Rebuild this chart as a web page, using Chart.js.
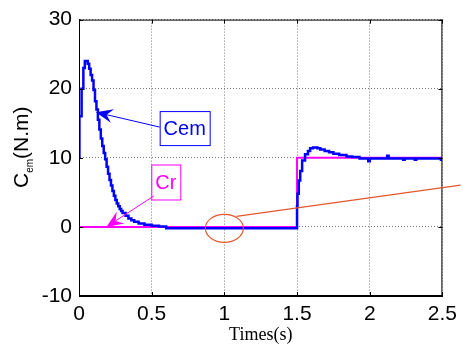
<!DOCTYPE html>
<html>
<head>
<meta charset="utf-8">
<script src="https://cdn.jsdelivr.net/npm/chart.js@4"></script>
<style>
  html, body { margin: 0; padding: 0; background: #fff; }
  #wrap { width: 463px; height: 350px; position: relative; }
</style>
</head>
<body>
<div id="wrap"><canvas id="torqueChart" width="463" height="350"></canvas></div>
<script>
// electromagnetic torque (Cem) and load torque (Cr) vs time
const cemTime = [0, 0.003, 0.018, 0.03, 0.04, 0.06, 0.07, 0.08, 0.09, 0.1, 0.11, 0.12, 0.13, 0.14,
    0.15, 0.16, 0.17, 0.18, 0.19, 0.2, 0.21, 0.22, 0.23, 0.24, 0.25, 0.26, 0.27, 0.28, 0.29, 0.3,
    0.32, 0.34, 0.36, 0.38, 0.41, 0.45, 0.5, 0.55, 0.6, 1.5,
    1.5, 1.503, 1.512, 1.522, 1.535, 1.555, 1.575, 1.59, 1.61, 1.64, 1.66, 1.69, 1.72, 1.75,
    1.79, 1.84, 1.88, 1.93, 1.99, 2.0, 2.12, 2.13, 2.23, 2.24, 2.31, 2.32, 2.49, 2.5];
const cemTorque = [10, 16, 20, 23, 24, 23.6, 22.9, 22, 21.2, 19.8, 18.2, 17, 15.5, 14.1,
    12.8, 11.7, 10.7, 9.8, 8.7, 7.7, 6.8, 6.0, 5.2, 4.5, 3.9, 3.4, 3.0, 2.6, 2.3, 2.0,
    1.6, 1.2, 0.95, 0.75, 0.5, 0.3, 0.15, 0.05, -0.2, -0.2,
    3, 4.8, 6.7, 8.1, 9.6, 10.5, 11.0, 11.4, 11.5, 11.4, 11.2, 11.0, 10.8, 10.6,
    10.4, 10.2, 10.1, 9.9, 9.5, 9.9, 10.3, 9.9, 9.7, 9.9, 9.7, 9.9, 9.7, 9.7];
const crTime = [0, 1.5, 1.5, 2.5];
const crTorque = [0, 0, 10, 10];
const xTicks = [0, 0.5, 1, 1.5, 2, 2.5];
const yTicks = [-10, 0, 10, 20, 30];

const cemPoints = cemTime.map((t, i) => ({ x: t, y: cemTorque[i] }));
const crPoints = crTime.map((t, i) => ({ x: t, y: crTorque[i] }));

function arrow(ctx, x1, y1, x2, y2, color) {
    const ang = Math.atan2(y2 - y1, x2 - x1);
    const len = 17, half = 7, notch = 11;
    ctx.strokeStyle = color;
    ctx.fillStyle = color;
    ctx.lineWidth = 1;
    ctx.beginPath();
    ctx.moveTo(x1, y1);
    ctx.lineTo(x2 - Math.cos(ang) * notch, y2 - Math.sin(ang) * notch);
    ctx.stroke();
    const bx = x2 - Math.cos(ang) * len, by = y2 - Math.sin(ang) * len;
    const nx = -Math.sin(ang), ny = Math.cos(ang);
    ctx.beginPath();
    ctx.moveTo(x2, y2);
    ctx.lineTo(bx + nx * half, by + ny * half);
    ctx.lineTo(x2 - Math.cos(ang) * notch, y2 - Math.sin(ang) * notch);
    ctx.lineTo(bx - nx * half, by - ny * half);
    ctx.closePath();
    ctx.fill();
}

const decorations = {
    id: 'decorations',
    afterDraw(chart) {
        const ctx = chart.ctx;
        const a = chart.chartArea;
        const xs = chart.scales.x, ys = chart.scales.y;
        ctx.save();

        // box edges and inward ticks
        ctx.strokeStyle = '#000';
        ctx.lineWidth = 1;
        ctx.setLineDash([]);
        ctx.beginPath();
        ctx.moveTo(a.left, a.top + 0.5);
        ctx.lineTo(a.right, a.top + 0.5);
        ctx.moveTo(a.right - 0.5, a.top);
        ctx.lineTo(a.right - 0.5, a.bottom);
        ctx.moveTo(a.left + 0.5, a.top);
        ctx.lineTo(a.left + 0.5, a.bottom);
        ctx.moveTo(a.left, a.bottom - 0.5);
        ctx.lineTo(a.right, a.bottom - 0.5);
        xTicks.forEach(t => {
            const px = Math.round(xs.getPixelForValue(t)) + 0.5;
            ctx.moveTo(px, a.bottom); ctx.lineTo(px, a.bottom - 4);
            ctx.moveTo(px, a.top); ctx.lineTo(px, a.top + 4);
        });
        yTicks.forEach(v => {
            const py = Math.round(ys.getPixelForValue(v)) + 0.5;
            ctx.moveTo(a.left, py); ctx.lineTo(a.left + 4, py);
            ctx.moveTo(a.right, py); ctx.lineTo(a.right - 4, py);
        });
        ctx.stroke();

        // red ellipse and line
        const ex = xs.getPixelForValue(1.0), ey = ys.getPixelForValue(-0.2);
        ctx.strokeStyle = '#e4572e';
        ctx.lineWidth = 1.2;
        ctx.beginPath();
        ctx.ellipse(ex, ey, 19, 14, 0, 0, Math.PI * 2);
        ctx.stroke();
        ctx.beginPath();
        ctx.moveTo(xs.getPixelForValue(1.083), ys.getPixelForValue(1.53));
        ctx.lineTo(xs.getPixelForValue(2.625), ys.getPixelForValue(6.04));
        ctx.stroke();

        // Cem label
        const cx = xs.getPixelForValue(0.727), cy = ys.getPixelForValue(14.3);
        ctx.strokeStyle = '#0000ff';
        ctx.lineWidth = 1;
        ctx.strokeRect(cx - 25 + 0.5, cy - 17 + 0.5, 50, 34);
        ctx.fillStyle = '#0000ff';
        ctx.font = '20px "Liberation Sans", Arial, sans-serif';
        ctx.textAlign = 'center';
        ctx.textBaseline = 'middle';
        ctx.fillText('Cem', cx, cy + 1);
        arrow(ctx, cx - 25, cy - 1, xs.getPixelForValue(0.116), ys.getPixelForValue(16.6), '#0000ff');

        // Cr label
        const rx = xs.getPixelForValue(0.597), ry = ys.getPixelForValue(6.5);
        ctx.strokeStyle = '#ff00ff';
        ctx.strokeRect(rx - 14.5 + 0.5, ry - 17.5 + 0.5, 29, 35);
        ctx.fillStyle = '#ff00ff';
        ctx.fillText('Cr', rx, ry + 1);
        arrow(ctx, rx - 12, ry + 14, xs.getPixelForValue(0.188), ys.getPixelForValue(0), '#ff00ff');

        // axis titles
        ctx.fillStyle = '#000';
        ctx.font = '18px "Liberation Serif", "Times New Roman", serif';
        ctx.textAlign = 'center';
        ctx.textBaseline = 'alphabetic';
        ctx.fillText('Times(s)', (a.left + a.right) / 2, 340);

        ctx.translate(28, 188);
        ctx.rotate(-Math.PI / 2);
        ctx.textAlign = 'left';
        ctx.font = '21px "Liberation Sans", Arial, sans-serif';
        ctx.fillText('C', 0, 0);
        let w = ctx.measureText('C').width;
        ctx.font = '10px "Liberation Sans", Arial, sans-serif';
        ctx.fillText('em', w, 5);
        w += ctx.measureText('em').width;
        ctx.font = '21px "Liberation Sans", Arial, sans-serif';
        ctx.fillText('(N.m)', w, 0);
        ctx.restore();
    }
};

const ctx = document.getElementById('torqueChart').getContext('2d');
new Chart(ctx, {
    type: 'line',
    data: {
        datasets: [
            {
                label: 'Cem',
                data: cemPoints,
                borderColor: '#0000ff',
                borderWidth: 2.5,
                stepped: true,
                pointRadius: 0,
                fill: false
            },
            {
                label: 'Cr',
                data: crPoints,
                borderColor: '#ff00ff',
                borderWidth: 2,
                pointRadius: 0,
                fill: false
            }
        ]
    },
    options: {
        responsive: false,
        animation: false,
        events: [],
        layout: { padding: { top: 15, right: 16, left: 0, bottom: 0 } },
        plugins: {
            legend: { display: false },
            tooltip: { enabled: false }
        },
        scales: {
            x: {
                type: 'linear',
                min: 0,
                max: 2.5,
                afterFit: s => { s.height = 54; },
                afterBuildTicks: s => { s.ticks = xTicks.map(v => ({ value: v })); },
                grid: { color: '#777', drawTicks: false, lineWidth: 1 },
                border: { display: true, color: '#000', width: 1, dash: [1, 2] },
                ticks: {
                    color: '#000',
                    padding: 6,
                    maxRotation: 0,
                    font: { family: '"Liberation Sans", Arial, sans-serif', size: 21 },
                    callback: v => String(v)
                }
            },
            y: {
                type: 'linear',
                min: -10,
                max: 30,
                afterFit: s => { s.width = 79; },
                afterBuildTicks: s => { s.ticks = yTicks.map(v => ({ value: v })); },
                grid: { color: '#777', drawTicks: false, lineWidth: 1 },
                border: { display: true, color: '#000', width: 1, dash: [1, 2] },
                ticks: {
                    color: '#000',
                    padding: 7,
                    font: { family: '"Liberation Sans", Arial, sans-serif', size: 21 },
                    callback: v => String(v)
                }
            }
        }
    },
    plugins: [decorations]
});
</script>
</body>
</html>
